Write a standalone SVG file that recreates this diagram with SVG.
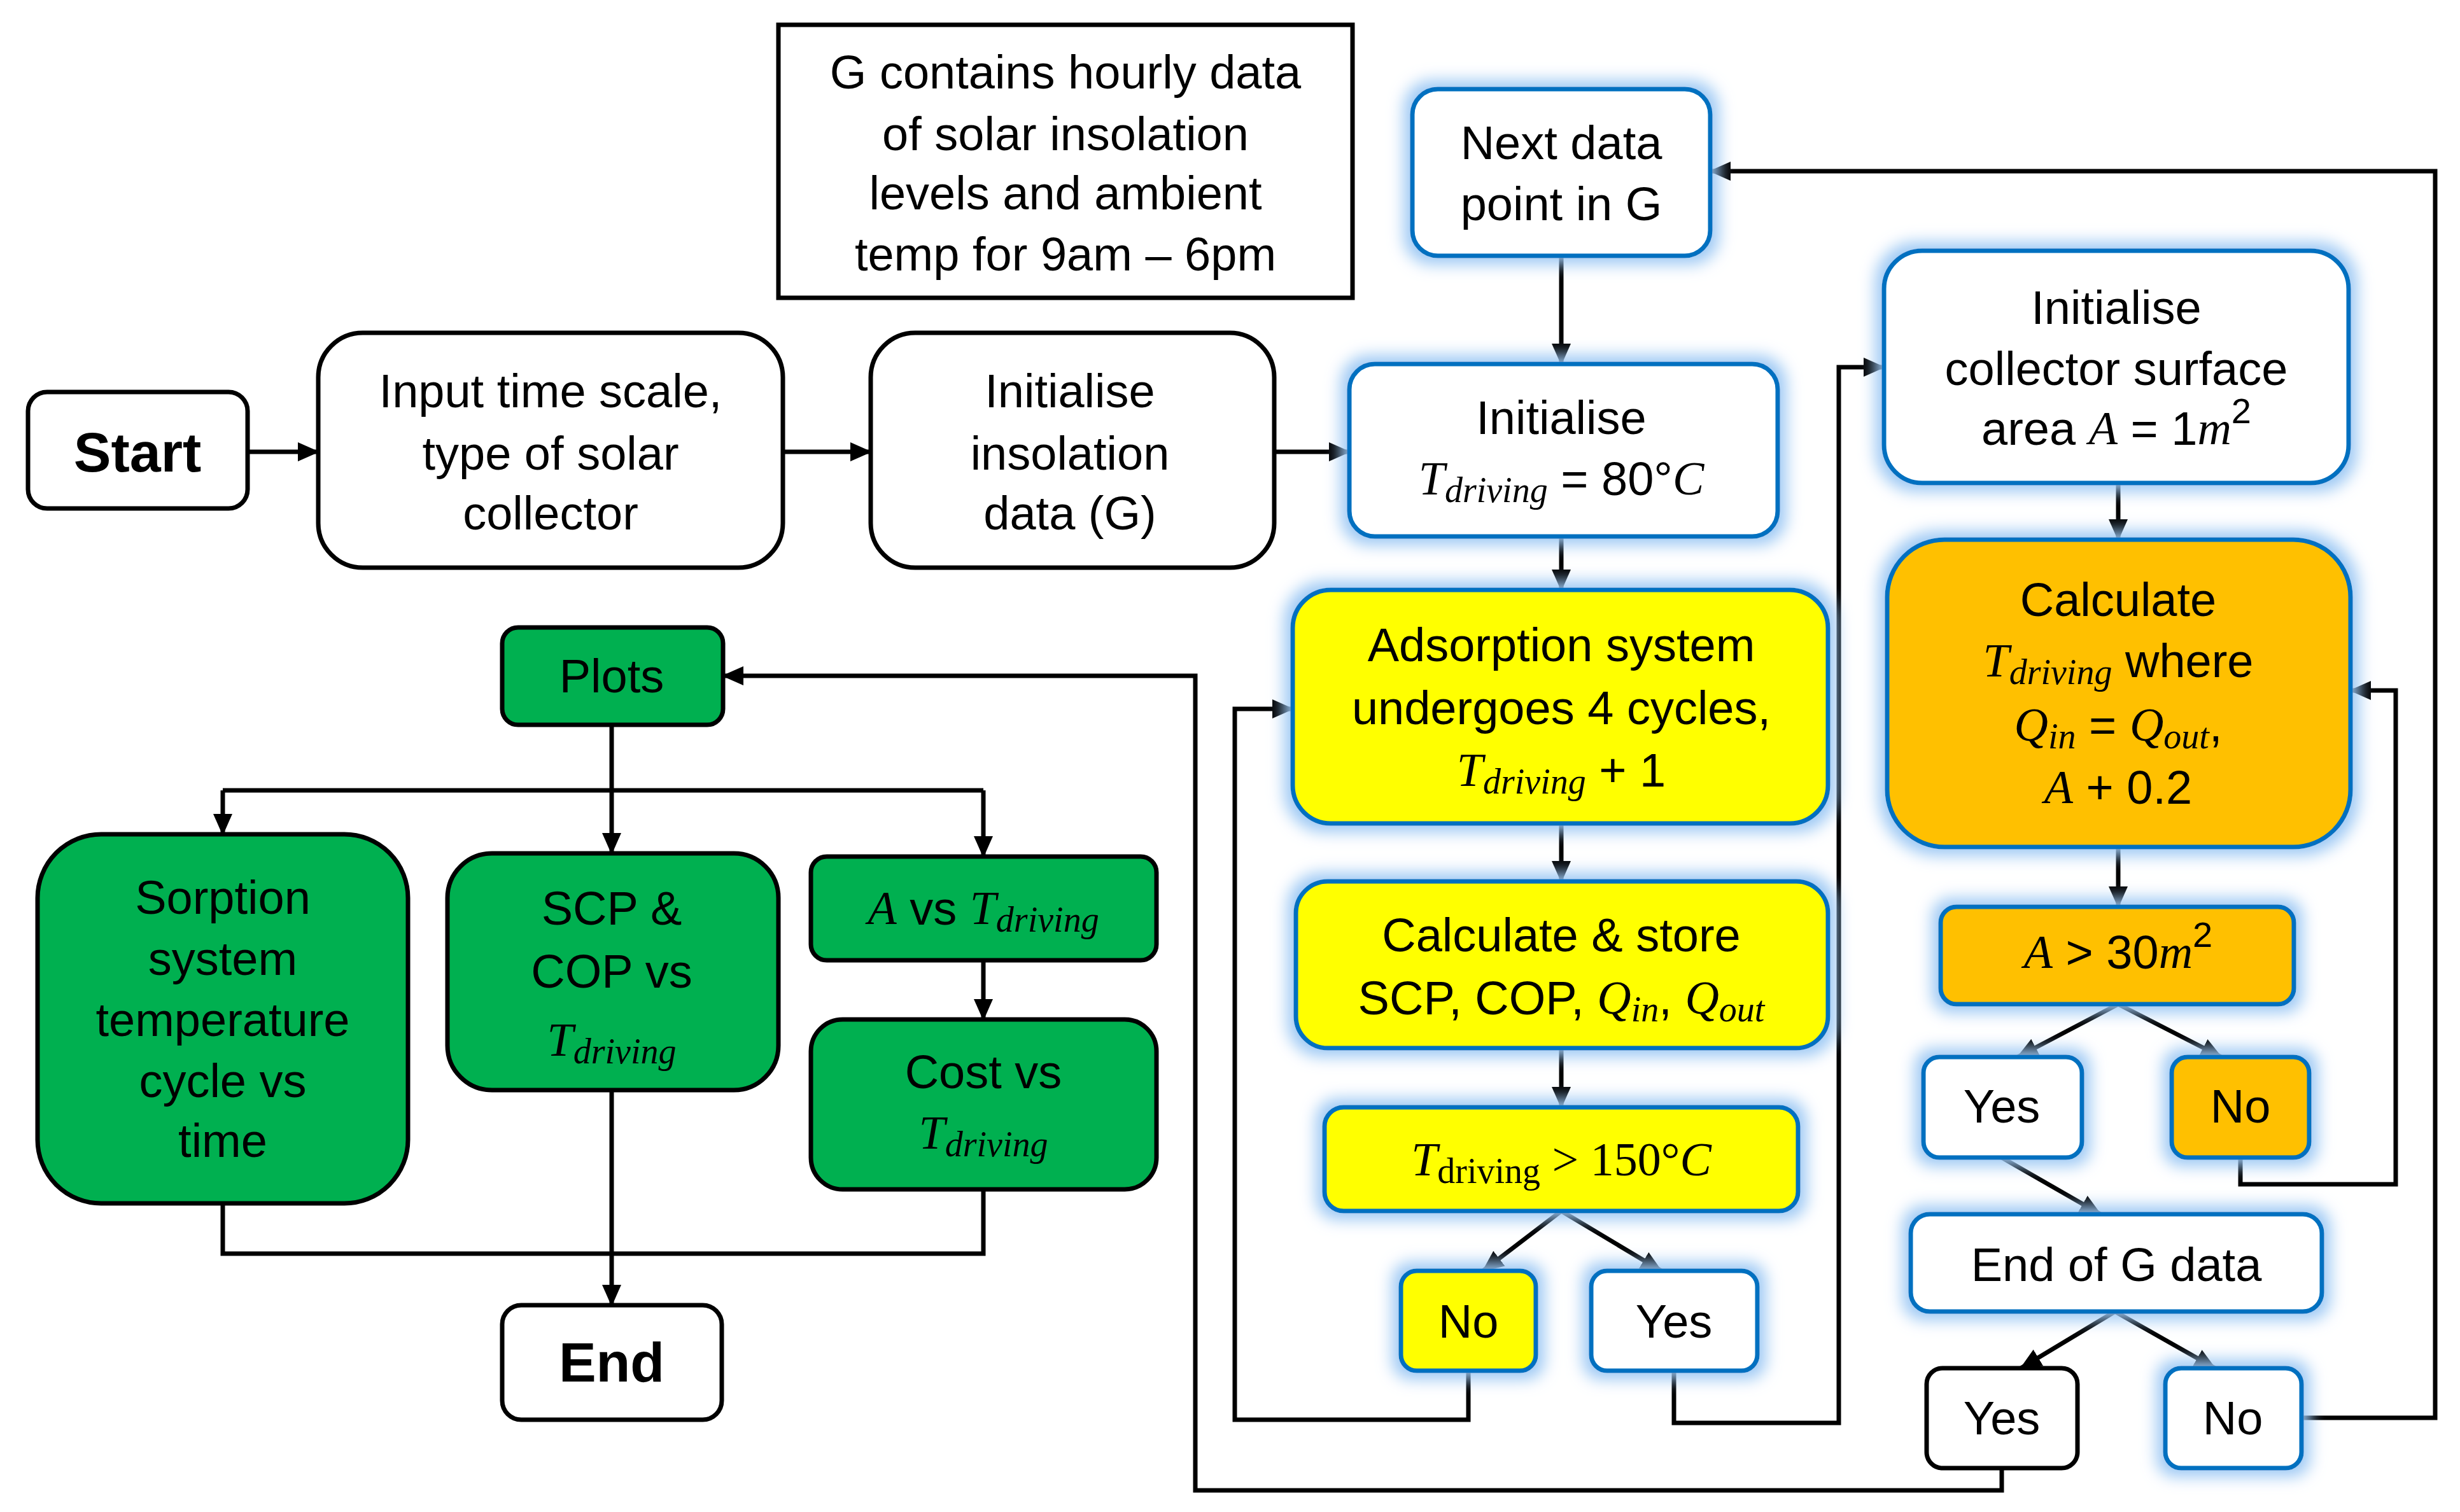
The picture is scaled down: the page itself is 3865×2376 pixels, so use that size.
<svg xmlns="http://www.w3.org/2000/svg" width="3865" height="2376" viewBox="0 0 3865 2376">
<defs>
<marker id="ah" markerUnits="userSpaceOnUse" markerWidth="34" markerHeight="34" viewBox="0 0 34 34" refX="32" refY="17" orient="auto"><path d="M0,2 L34,17 L0,32 Z" fill="#000"/></marker>
<filter id="glow" x="-20%" y="-30%" width="140%" height="160%"><feMorphology in="SourceAlpha" operator="dilate" radius="10" result="d"/><feGaussianBlur in="d" stdDeviation="12" result="b"/><feFlood flood-color="#9cc8f4"/><feComposite in2="b" operator="in" result="g"/><feMerge><feMergeNode in="g"/><feMergeNode in="SourceGraphic"/></feMerge></filter>
<style>
text{font-family:"Liberation Sans",Arial,sans-serif;font-size:74px;fill:#000;text-anchor:middle;dominant-baseline:central}
.b{font-weight:bold;font-size:88px}
.m{font-family:"Liberation Serif","DejaVu Serif",serif;font-style:italic}
.s{font-size:56px}
.k{fill:#fff;stroke:#000;stroke-width:7}
.bl{stroke:#0070c0;stroke-width:7;filter:url(#glow)}
.w{fill:#fff}
.y{fill:#ffff00}
.o{fill:#ffc000}
.g{fill:#00b050;stroke:#000;stroke-width:7}
.c{fill:none;stroke:#000;stroke-width:7}
.a{marker-end:url(#ah)}
</style>
</defs>
<rect width="3865" height="2376" fill="#fff"/>
<g id="connectors" class="c">
<path class="a" d="M389,710 H500"/>
<path class="a" d="M1230,710 H1368"/>
<path class="a" d="M2002,710 H2120"/>
<path class="a" d="M2453,402 V572"/>
<path class="a" d="M2453,843 V927"/>
<path class="a" d="M2453,1294 V1385"/>
<path class="a" d="M2453,1647 V1740"/>
<path class="a" d="M2453,1903 L2330,1997"/>
<path class="a" d="M2453,1903 L2610,1997"/>
<path class="a" d="M2307,2154 V2231 H1940 V1114 H2031"/>
<path class="a" d="M2630,2154 V2236 H2889 V577 H2960"/>
<path class="a" d="M3328,759 V848"/>
<path class="a" d="M3328,1331 V1425"/>
<path class="a" d="M3328,1578 L3170,1661"/>
<path class="a" d="M3328,1578 L3490,1661"/>
<path class="a" d="M3520,1819 V1861 H3764 V1085 H3693"/>
<path class="a" d="M3145,1819 L3300,1908"/>
<path class="a" d="M3323,2061 L3175,2150"/>
<path class="a" d="M3323,2061 L3480,2150"/>
<path class="a" d="M3616,2228 H3826 V269 H2687"/>
<path class="a" d="M3145,2307 V2342 H1878 V1062 H1136"/>
<path d="M961,1139 V1242 M350,1242 H1545"/>
<path class="a" d="M350,1242 V1311"/>
<path class="a" d="M961,1242 V1341"/>
<path class="a" d="M1545,1242 V1346"/>
<path class="a" d="M1545,1509 V1602"/>
<path d="M350,1891 V1970 H1545 V1869"/>
<path class="a" d="M961,1713 V2051"/>
</g>
<g id="start"><rect class="k" x="44" y="616" width="345" height="183" rx="30"/><text class="b" x="216" y="710">Start</text></g>
<g id="input"><rect class="k" x="500" y="523" width="730" height="369" rx="70"/><text x="865" y="614">Input time scale,</text><text x="865" y="712">type of solar</text><text x="865" y="806">collector</text></g>
<g id="init-insolation"><rect class="k" x="1368" y="523" width="634" height="369" rx="70"/><text x="1681" y="614">Initialise</text><text x="1681" y="712">insolation</text><text x="1681" y="806">data (G)</text></g>
<g id="g-note"><rect class="k" x="1223" y="39" width="902" height="429"/><text x="1674" y="113">G contains hourly data</text><text x="1674" y="210">of solar insolation</text><text x="1674" y="303">levels and ambient</text><text x="1674" y="399">temp for 9am – 6pm</text></g>
<g id="next-data"><rect class="w bl" x="2219" y="140" width="468" height="262" rx="40"/><text x="2453" y="224">Next data</text><text x="2453" y="320">point in G</text></g>
<g id="init-t"><rect class="w bl" x="2120" y="572" width="673" height="271" rx="40"/><text x="2453" y="656">Initialise</text><text x="2453" y="752"><tspan class="m">T</tspan><tspan class="m s" dy="18">driving</tspan><tspan dy="-18"> = 80°</tspan><tspan class="m">C</tspan></text></g>
<g id="adsorption"><rect class="y bl" x="2031" y="927" width="841" height="367" rx="60"/><text x="2453" y="1013">Adsorption system</text><text x="2453" y="1112">undergoes 4 cycles,</text><text x="2453" y="1210"><tspan class="m">T</tspan><tspan class="m s" dy="18">driving</tspan><tspan dy="-18"> + 1</tspan></text></g>
<g id="calc-store"><rect class="y bl" x="2036" y="1385" width="836" height="262" rx="50"/><text x="2453" y="1469">Calculate &amp; store</text><text x="2453" y="1568">SCP, COP, <tspan class="m">Q</tspan><tspan class="m s" dy="18">in</tspan><tspan dy="-18">, </tspan><tspan class="m">Q</tspan><tspan class="m s" dy="18">out</tspan></text></g>
<g id="t-check"><rect class="y bl" x="2081" y="1740" width="744" height="163" rx="30"/><text x="2453" y="1822"><tspan class="m" font-style="normal">T</tspan><tspan class="s" font-family="Liberation Serif" dy="18">driving</tspan><tspan dy="-18" font-family="Liberation Serif"> &gt; 150°</tspan><tspan class="m">C</tspan></text></g>
<g id="t-no"><rect class="y bl" x="2201" y="1997" width="212" height="157" rx="25"/><text x="2307" y="2076">No</text></g>
<g id="t-yes"><rect class="w bl" x="2500" y="1997" width="261" height="157" rx="25"/><text x="2630" y="2076">Yes</text></g>
<g id="init-collector"><rect class="w bl" x="2960" y="394" width="730" height="365" rx="60"/><text x="3325" y="483">Initialise</text><text x="3325" y="579">collector surface</text><text x="3325" y="673">area <tspan class="m">A</tspan> = 1<tspan class="m">m</tspan><tspan class="s" dy="-28">2</tspan></text></g>
<g id="calc-t"><rect class="o bl" x="2965" y="848" width="728" height="483" rx="90"/><text x="3328" y="942">Calculate</text><text x="3328" y="1038"><tspan class="m">T</tspan><tspan class="m s" dy="18">driving</tspan><tspan dy="-18"> where</tspan></text><text x="3328" y="1139"><tspan class="m">Q</tspan><tspan class="m s" dy="18">in</tspan><tspan dy="-18"> = </tspan><tspan class="m">Q</tspan><tspan class="m s" dy="18">out</tspan><tspan dy="-18">,</tspan></text><text x="3328" y="1237"><tspan class="m">A</tspan> + 0.2</text></g>
<g id="a-check"><rect class="o bl" x="3049" y="1425" width="555" height="153" rx="25"/><text x="3328" y="1496"><tspan class="m">A</tspan> &gt; 30<tspan class="m">m</tspan><tspan class="s" dy="-28">2</tspan></text></g>
<g id="a-yes"><rect class="w bl" x="3022" y="1661" width="249" height="158" rx="25"/><text x="3145" y="1738">Yes</text></g>
<g id="a-no"><rect class="o bl" x="3412" y="1661" width="216" height="158" rx="25"/><text x="3520" y="1738">No</text></g>
<g id="end-g"><rect class="w bl" x="3002" y="1908" width="646" height="153" rx="30"/><text x="3325" y="1987">End of G data</text></g>
<g id="g-yes"><rect class="k" x="3027" y="2150" width="237" height="157" rx="25"/><text x="3145" y="2228">Yes</text></g>
<g id="g-no"><rect class="w bl" x="3402" y="2150" width="214" height="157" rx="25"/><text x="3508" y="2228">No</text></g>
<g id="plots"><rect class="g" x="789" y="986" width="347" height="153" rx="25"/><text x="961" y="1062">Plots</text></g>
<g id="sorption"><rect class="g" x="59" y="1311" width="582" height="580" rx="100"/><text x="350" y="1410">Sorption</text><text x="350" y="1506">system</text><text x="350" y="1602">temperature</text><text x="350" y="1698">cycle vs</text><text x="350" y="1792">time</text></g>
<g id="scp-cop"><rect class="g" x="703" y="1341" width="520" height="372" rx="70"/><text x="961" y="1427">SCP &amp;</text><text x="961" y="1526">COP vs</text><text x="961" y="1634"><tspan class="m">T</tspan><tspan class="m s" dy="18">driving</tspan></text></g>
<g id="a-vs"><rect class="g" x="1274" y="1346" width="543" height="163" rx="25"/><text x="1545" y="1427"><tspan class="m">A</tspan> vs <tspan class="m">T</tspan><tspan class="m s" dy="18">driving</tspan></text></g>
<g id="cost-vs"><rect class="g" x="1274" y="1602" width="543" height="267" rx="50"/><text x="1545" y="1684">Cost vs</text><text x="1545" y="1780"><tspan class="m">T</tspan><tspan class="m s" dy="18">driving</tspan></text></g>
<g id="end"><rect class="k" x="789" y="2051" width="345" height="180" rx="30"/><text class="b" x="961" y="2140">End</text></g>
</svg>
